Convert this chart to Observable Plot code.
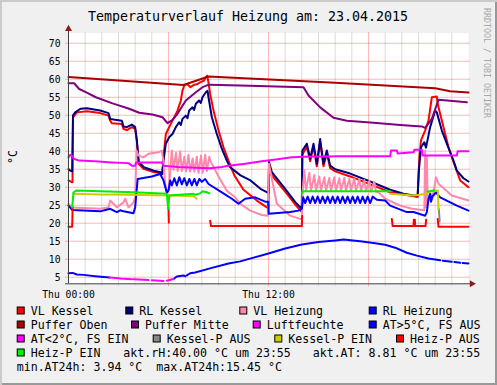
<!DOCTYPE html>
<html><head><meta charset="utf-8">
<script src="https://cdn.jsdelivr.net/npm/d3@7"></script>
<script src="https://cdn.jsdelivr.net/npm/@observablehq/plot@0.6"></script>
<style>
body{margin:0;background:#fff}
#wrap{position:relative;width:497px;height:385px;background:#f0f0f0;box-shadow:inset 2px 2px 0 #cbcbcb, inset -2px -2px 0 #999;overflow:hidden}
#wrap svg{position:absolute;left:0;top:0}
</style></head><body><div id="wrap"></div>
<script>
// ---- data: [hour, °C] ----
const vlKessel = [[0,31.9],[0.2,31.4],[0.24,31.4],[0.27,49.4],[0.5,50.8],[1.1,51.1],[1.9,50.6],[2.4,49.9],[2.5,48.5],[2.6,47.8],[3.2,47.6],[3.3,46.2],[3.5,45.9],[3.8,46.7],[4.0,46.2],[4.1,43.0],[4.2,36.5],[4.5,35.1],[5.1,34.2],[5.5,33.9],[5.62,33.6],[5.74,40.2],[5.84,44.8],[6.04,46.7],[6.24,48.5],[6.54,51.3],[6.74,54.1],[6.84,56.9],[6.94,58.2],[7.12,58.7],[7.32,57.8],[7.5,58.4],[7.7,58.6],[7.92,59.2],[8.12,59.6],[8.22,60.5],[8.32,61.0],[8.38,59.6],[8.5,55.9],[8.7,51.3],[9.0,45.8],[9.3,41.1],[9.6,37.4],[9.95,33.3],[10.5,29.3],[11.3,26.3],[11.9,24.4],[12.0,24.2],[12.03,35.3],[12.2,33.3],[13.0,28.8],[13.6,25.2],[14.0,23.1],[14.03,39.0],[14.3,41.3],[14.5,37.2],[14.7,41.3],[14.9,35.8],[15.1,42.6],[15.3,35.8],[15.5,39.4],[15.7,35.3],[16.0,34.4],[16.9,33.0],[18.1,30.8],[19.3,28.6],[20.7,27.5],[20.95,27.3],[21.05,38.3],[21.15,43.0],[21.4,45.8],[21.6,48.5],[21.8,55.0],[22.1,55.2],[22.15,53.2],[22.5,46.7],[22.8,41.1],[23.1,37.0],[23.5,31.9],[24,30.0]];
const rlKessel = [[0,35.1],[0.1,34.6],[0.22,34.4],[0.27,50.0],[0.4,50.8],[0.72,51.8],[1.1,51.95],[1.9,51.3],[2.4,50.6],[2.5,49.0],[2.7,48.8],[3.2,48.5],[3.3,46.9],[3.5,46.7],[3.8,47.4],[4.0,46.7],[4.1,43.0],[4.22,37.0],[4.52,35.55],[5.12,34.6],[5.52,34.2],[5.62,33.7],[5.7,37.4],[5.84,42.1],[6.04,43.9],[6.24,44.8],[6.44,46.7],[6.64,48.05],[6.74,47.3],[6.84,49.0],[7.04,49.9],[7.14,49.2],[7.24,51.3],[7.44,52.2],[7.54,51.5],[7.64,53.2],[7.84,54.1],[7.94,53.4],[8.04,55.0],[8.24,56.4],[8.34,56.8],[8.4,55.0],[8.6,49.45],[8.9,44.8],[9.2,40.7],[9.5,37.4],[9.7,35.55],[10.32,33.3],[10.92,31.9],[11.52,29.55],[11.92,28.6],[12.0,28.3],[12.03,37.0],[12.2,34.2],[13.0,29.55],[13.62,25.8],[14.0,24.0],[14.03,40.2],[14.3,42.1],[14.5,37.9],[14.7,42.1],[14.9,36.5],[15.1,43.4],[15.3,36.5],[15.5,40.2],[15.7,36.0],[16.0,35.0],[16.9,33.8],[18.1,31.6],[19.3,29.3],[20.1,28.2],[20.7,27.7],[20.95,27.8],[21.02,34.6],[21.15,41.1],[21.35,42.5],[21.45,41.0],[21.7,46.7],[22.0,51.3],[22.1,50.8],[22.4,45.75],[22.7,42.1],[23.1,37.4],[23.3,34.6],[23.7,32.5],[24,31.6]];
const vlHeizung = [[0,25.4],[0.22,24.4],[1.9,24.0],[2.4,24.4],[2.5,26.3],[2.7,25.4],[2.9,24.4],[3.3,25.8],[3.4,26.8],[3.6,24.4],[3.9,25.8],[4.0,27.2],[4.08,40.2],[4.2,38.8],[4.5,38.3],[4.8,39.3],[5.4,39.7],[5.6,40.2],[5.7,37.0],[5.8,31.0],[5.9,28.5],[6.05,29.5],[6.1,35.0],[6.2,40.2],[6.3,34.8],[6.45,39.5],[6.55,34.5],[6.7,40.0],[6.8,34.5],[6.95,38.5],[7.05,34.4],[7.2,39.0],[7.3,34.3],[7.45,38.0],[7.55,34.3],[7.7,38.5],[7.8,34.0],[7.95,38.8],[8.05,34.0],[8.2,39.0],[8.3,34.5],[8.45,38.5],[8.5,37.4],[9.0,33.0],[9.5,29.0],[10.0,27.2],[10.3,25.4],[10.9,23.5],[11.6,22.3],[11.95,22.1],[12.03,36.5],[12.3,30.0],[12.5,25.4],[13.3,22.1],[13.9,21.2],[14.0,21.3],[14.05,29.0],[14.15,34.8],[14.25,29.0],[14.45,34.0],[14.55,29.0],[14.75,33.4],[14.85,29.0],[15.05,33.0],[15.15,29.0],[15.35,32.8],[15.45,29.0],[15.65,32.6],[15.75,29.0],[15.95,32.8],[16.05,29.0],[16.25,32.5],[16.35,29.0],[16.55,32.6],[16.65,29.0],[16.85,32.3],[16.95,29.0],[17.15,32.4],[17.25,29.0],[17.45,32.2],[17.55,29.0],[17.75,32.0],[17.85,28.9],[18.05,31.8],[18.15,28.8],[18.35,31.5],[18.45,28.7],[18.6,28.6],[19.0,26.8],[19.9,24.9],[20.6,24.0],[21.35,23.6],[21.4,40.2],[21.45,24.5],[21.5,38.5],[21.55,26.0],[21.9,28.5],[22.05,32.8],[22.2,31.0],[23.0,27.7],[24,26.3]];
const rlHeizung = [[0,24.9],[0.22,23.7],[1.9,23.3],[2.5,24.0],[2.9,23.1],[3.1,23.6],[3.3,23.3],[3.9,22.8],[4.0,24.4],[4.15,32.3],[5.0,33.0],[5.5,33.7],[5.7,31.9],[5.9,28.5],[6.0,29.1],[6.1,31.9],[6.2,30.5],[6.35,32.5],[6.5,30.5],[6.65,32.8],[6.8,30.8],[6.95,32.5],[7.1,30.5],[7.25,32.3],[7.4,30.5],[7.55,32.3],[7.7,30.5],[7.85,32.3],[8.0,31.5],[8.2,32.3],[8.4,30.9],[9.2,28.6],[9.8,26.8],[10.2,25.4],[10.6,26.8],[11.2,27.2],[11.8,26.0],[11.98,26.0],[12.02,22.6],[13.3,23.1],[13.8,23.5],[14.0,24.0],[14.08,27.2],[14.2,25.6],[14.35,27.4],[14.5,25.6],[14.65,27.4],[14.8,25.6],[14.95,27.4],[15.1,25.6],[15.25,27.4],[15.4,25.6],[15.55,27.4],[15.7,25.6],[15.85,27.4],[16.0,25.6],[16.15,27.4],[16.3,25.6],[16.45,27.4],[16.6,25.6],[16.75,27.4],[16.9,25.6],[17.05,27.4],[17.2,25.6],[17.35,27.4],[17.5,25.6],[17.65,27.4],[17.8,25.6],[17.95,27.4],[18.1,25.6],[18.25,27.4],[18.5,26.5],[19.0,26.3],[19.3,24.9],[20.3,23.1],[20.7,23.1],[21.4,22.1],[21.5,23.1],[21.6,26.8],[21.7,28.2],[21.75,26.0],[21.85,27.5],[22.05,28.6],[22.3,27.2],[23.3,24.9],[24,23.5]];
const pufferOben = [[0,60.6],[6.9,58.4],[8.4,60.75],[16,59.0],[22.0,57.5],[22.9,56.7],[24,56.3]];
const pufferMitte = [[0,58.9],[0.34,58.9],[0.64,57.3],[1.04,56.4],[1.64,55.0],[2.64,53.3],[3.64,51.8],[4.24,50.7],[5.04,50.2],[5.64,49.45],[5.94,47.8],[6.24,48.7],[6.54,50.4],[7.04,54.1],[7.64,56.4],[8.04,57.8],[8.42,58.5],[10.3,58.25],[14.1,57.8],[14.4,55.5],[15.1,52.2],[15.9,49.3],[16.7,48.5],[18.3,47.9],[19.9,47.3],[21.2,46.9],[21.4,46.5],[21.8,49.0],[22.2,54.3],[23.9,53.6]];
const luftfeuchte = [[0,38.3],[0.1,39.0],[0.25,38.6],[0.3,37.9],[0.65,37.4],[1.6,37.2],[2.6,36.9],[3.6,36.7],[3.8,36.0],[4.0,36.0],[4.05,36.9],[5.6,36.9],[5.7,36.0],[6.6,35.6],[7.6,35.4],[8.5,35.3],[9.2,35.6],[9.6,36.0],[10.6,36.5],[11.6,37.2],[12.2,37.6],[13.4,38.3],[14.1,38.5],[16.3,38.6],[19.3,38.6],[19.35,40.2],[19.7,40.2],[19.75,39.4],[20.7,39.7],[20.75,40.4],[21.2,40.4],[21.25,38.8],[23.3,38.8],[23.35,40.0],[24,40.0]];
const atHigh = [[0,6.1],[0.25,6.2],[0.5,5.75],[0.9,5.65],[1.6,5.3],[2.3,5.0],[2.45,4.9],[2.5,null],[6.3,4.5],[6.5,5.2],[6.9,5.5],[7.0,5.3],[7.05,null],[7.1,5.5],[7.3,6.1],[7.6,6.3],[8.6,7.6],[9.6,8.8],[10.3,9.4],[11.0,10.3],[12.0,11.6],[13.0,13.0],[14.0,14.1],[15.0,14.8],[16.0,15.2],[16.5,15.45],[17.5,15.0],[18.3,14.5],[19.0,14.0],[19.6,13.2],[20.3,11.8],[20.9,11.0],[21.6,10.2],[22.3,9.7],[22.38,null],[22.45,9.6],[23.0,9.3],[23.08,null],[23.15,9.2],[23.5,9.0],[23.58,null],[23.65,8.95],[24,8.81]];
const atLow = [[2.45,4.9],[3.0,4.7],[3.2,4.6],[3.25,null],[3.3,4.55],[3.8,4.45],[3.85,null],[3.9,4.4],[4.8,4.2],[4.85,null],[5.0,4.15],[5.7,3.94],[5.8,null],[5.9,4.0],[6.3,4.5]];
const kesselPAus = [[22.22,24.0],[22.27,20.5]];
const kesselPEin = [[0.3,28.2],[1.9,28.0],[3.6,27.9],[5.9,27.7],[6.3,27.7],[7.5,27.5],[7.7,26.8],[7.75,null],[19.3,28.2],[20.7,27.7],[21.1,27.9],[21.4,28.2],[21.7,28.8],[22.1,29.1],[22.17,29.1],[22.2,23.8]];
const heizPAus = [[0,19.0],[0.22,19.0],[0.25,24.5],[0.27,null],[6.0,24.3],[6.02,20.2],[6.05,null],[8.5,20.7],[8.55,19.2],[14.0,19.2],[14.02,22.0],[14.05,null],[19.4,21.2],[19.45,19.2],[20.7,19.2],[20.72,21.0],[20.78,21.0],[20.8,19.2],[21.42,19.2],[21.46,21.0],[21.5,null],[22.15,21.2],[22.2,19.0],[24,19.0]];
const heizPEin = [[0.22,24.4],[0.3,28.6],[0.5,29.1],[1.9,28.9],[3.9,28.6],[5.9,28.2],[5.98,24.0],[6.05,27.7],[7.5,28.2],[7.6,27.9],[7.9,28.3],[8.05,28.9],[8.3,28.6],[8.45,28.3],[8.5,null],[14.0,28.2],[14.05,28.9],[19.3,28.9],[19.35,null],[21.55,28.8],[21.95,29.1]];

const seriesNames = ["VL Kessel","RL Kessel","VL Heizung","RL Heizung","Puffer Oben","Puffer Mitte","Luftfeuchte","AT>5°C, FS AUS","AT<2°C, FS EIN","Kessel-P AUS","Kessel-P EIN","Heiz-P AUS","Heiz-P EIN"];
const seriesColors = ["#ff0000","#000080","#ff88aa","#0000ff","#aa0000","#800080","#ff00ff","#0000ff","#ff00ff","#888888","#cccc00","#ff0000","#00ee00"];
const seriesData = [vlKessel, rlKessel, vlHeizung, rlHeizung, pufferOben, pufferMitte, luftfeuchte, atHigh, atLow, kesselPAus, kesselPEin, heizPAus, heizPEin];

const yTicks = [5,10,15,20,25,30,35,40,45,50,55,60,65,70];
const xTickHours = [0,12];
const xTickLabels = ["Thu 00:00","Thu 12:00"];
const minorHours = [1,2,3,4,5,7,8,9,10,11,13,14,15,16,17,19,20,21,22,23];
const majorHours = [6,12,18];
const titleText = "Temperaturverlauf Heizung am: 23.04.2015";
const infoTexts = ["akt.rH:40.00 °C um 23:55","akt.AT: 8.81 °C um 23:55","min.AT24h: 3.94 °C  max.AT24h:15.45 °C"];

// ---- chart ----
const Y0 = 3.17, Y1 = 72.8;
const mono = "DejaVu Sans Mono";
const gridRed = {stroke: "#ff0000", strokeOpacity: 0.28};

const marks = [
  Plot.frame({fill: "white", stroke: "none"}),
  Plot.ruleX(minorHours, {x: d => d, y1: () => 2.35, y2: () => 73.05, stroke: "#dcdcdc"}),
  Plot.ruleX(majorHours, {x: d => d, y1: () => 2.35, y2: () => 73.05, ...gridRed}),
  Plot.ruleY(yTicks, {y: d => d, x1: () => -0.18, x2: () => 24.12, ...gridRed}),
  ...seriesData.map((data, i) => Plot.line(data, {x: d => d[0], y: d => d[1], stroke: seriesColors[i], strokeWidth: 2})),
  Plot.ruleX([0], {x: d => d, y1: () => Y0, y2: () => 73.9, stroke: "#404040"}),
  Plot.ruleY([Y0], {y: d => d, x1: () => -0.18, x2: () => 24.2, stroke: "#404040"}),
  Plot.dot([0], {x: d => d, y: () => 74.0, symbol: "triangle", r: 2.6, fill: "#8b1c1c", stroke: "none"}),
  Plot.dot([24.2], {x: d => d, y: () => Y0, symbol: "triangle", r: 2.6, rotate: 90, fill: "#8b1c1c", stroke: "none"}),
  Plot.text(yTicks, {x: () => 0, y: d => d, text: d => String(d), textAnchor: "end", lineAnchor: "bottom", dx: -8, dy: 3.4, fontSize: 9.7, fill: "#000"}),
  Plot.text(xTickHours, {x: d => d, y: () => Y0, text: (d, i) => xTickLabels[i], textAnchor: "middle", lineAnchor: "bottom", dy: 14.4, fontSize: 9.7, fill: "#000"})
];

const chart = Plot.plot({
  width: 497, height: 385,
  marginLeft: 68, marginRight: 29, marginTop: 32.7, marginBottom: 101.7,
  x: {domain: [0, 24], axis: null},
  y: {domain: [Y0, Y1], axis: null},
  style: {background: "transparent", fontFamily: mono, overflow: "visible"},
  marks
});
const wrap = document.getElementById("wrap");
wrap.appendChild(chart);

// ---- overlay texts: title, legend, labels ----
const svg = d3.select(wrap).append("svg").attr("width", 497).attr("height", 385)
  .style("font-family", mono).style("pointer-events", "none");
svg.append("text").attr("x", 248).attr("y", 21).attr("text-anchor", "middle")
  .style("font-size", "13.3px").text(titleText);
svg.append("text").attr("transform", "translate(17,157) rotate(-90)").attr("text-anchor", "middle")
  .style("font-size", "11.6px").text("°C");
svg.append("text").attr("transform", "translate(483.5,8) rotate(90)")
  .style("font-size", "8.3px").attr("fill", "#a8a8a8").text("RRDTOOL / TOBI OETIKER");

const legendRows = [[0,1,2,3],[4,5,6,7],[8,9,10,11],[12]];
const legendXs = [[30.7,139.3,253.3,382.7],[30.7,145,266.7,382.7],[30.7,166.7,288.3,410],[30.7]];
const baselines = [314.5, 328.5, 342.5, 356.5, 370.5];
legendRows.forEach((row, r) => row.forEach((si, c) => {
  const tx = legendXs[r][c], by = baselines[r];
  svg.append("rect").attr("x", tx - 13.5).attr("y", by - 7.5).attr("width", 7).attr("height", 7)
    .attr("fill", seriesColors[si]).attr("stroke", "#000").attr("stroke-width", 1);
  svg.append("text").attr("x", tx).attr("y", by).style("font-size", "11.6px").text(seriesNames[si]);
}));
[[123.3, baselines[3]], [312.7, baselines[3]], [16.7, baselines[4]]].forEach(([x, y], i) => {
  svg.append("text").attr("x", x).attr("y", y).style("font-size", "11.6px").style("white-space", "pre").text(infoTexts[i]);
});
</script></body></html>
